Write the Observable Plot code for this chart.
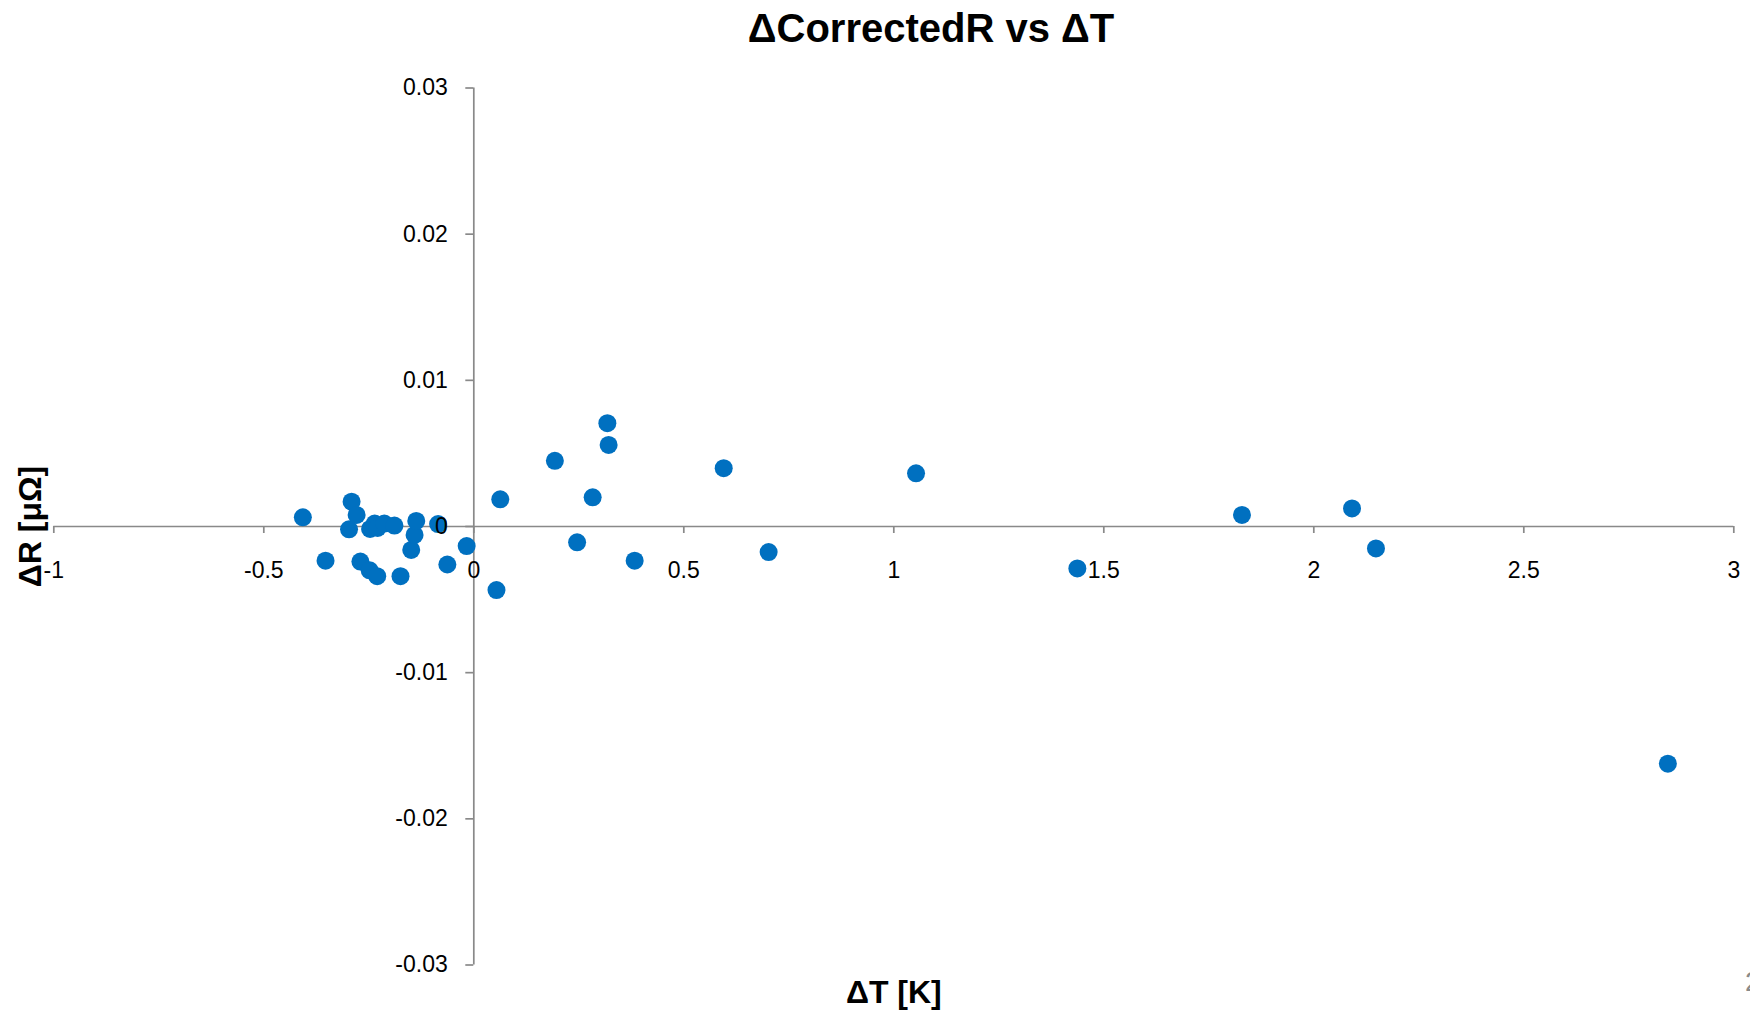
<!DOCTYPE html>
<html><head><meta charset="utf-8">
<script src="https://cdn.jsdelivr.net/npm/d3@7"></script>
<script src="https://cdn.jsdelivr.net/npm/@observablehq/plot@0.6"></script>
<style>
html,body{margin:0;padding:0;background:#fff;}
#wrap{position:relative;width:1750px;height:1012px;overflow:hidden;font-family:"Liberation Sans",Arial,sans-serif;}
#title{position:absolute;left:931px;top:8px;transform:translateX(-50%);font-size:40px;font-weight:bold;line-height:40px;white-space:nowrap;color:#000;}
#chart{position:absolute;left:0;top:56px;}
#pagenum{position:absolute;left:1745px;top:968px;font-size:28px;line-height:28px;color:#8a8a8a;}
</style></head><body>
<div id="wrap"><div id="title">ΔCorrectedR vs ΔT</div><div id="chart"></div><div id="pagenum">2</div></div>
<script>
const deltaT = [-0.407,-0.353,-0.297,-0.291,-0.279,-0.270,-0.248,-0.247,-0.236,-0.229,-0.230,-0.213,-0.189,-0.1745,-0.149,-0.141,-0.137,-0.085,-0.063,-0.017,0.054,0.063,0.193,0.246,0.283,0.318,0.321,0.383,0.595,0.702,1.053,1.437,1.829,2.091,2.148,2.843];
const deltaR = [0.00063,-0.00234,-0.00019,0.0017,0.00079,-0.0024,-0.0030,-0.00017,0.0002,-0.0001,-0.0034,0.0002,0.00006,-0.0034,-0.0016,-0.00058,0.00038,0.00017,-0.0026,-0.00134,-0.00435,0.00186,0.00449,-0.00108,0.0020,0.00707,0.00558,-0.00234,0.00399,-0.00175,0.00364,-0.00287,0.00079,0.00124,-0.0015,-0.01623];
const xTicks = [-1,-0.5,0,0.5,1,1.5,2,2.5,3];
const yTicks = [-0.03,-0.02,-0.01,0,0.01,0.02,0.03];
const xLabel = "ΔT [K]";
const yLabel = "ΔR [μΩ]";

const W = 1750, H = 956;
const mt = 31.5, mb = 47.5, ml = 53.3, mr = 16.7;
const xDomain = [-1, 3], yDomain = [-0.03, 0.03];
const xs = d3.scaleLinear(xDomain, [ml, W - mr]);
const ys = d3.scaleLinear(yDomain, [H - mb, mt]);
const axisColor = "#898989";

const chart = Plot.plot({
  width: W, height: H,
  marginTop: mt, marginBottom: mb, marginLeft: ml, marginRight: mr,
  x: {domain: xDomain},
  y: {domain: yDomain},
  style: {fontFamily: "'Liberation Sans', Arial, sans-serif", background: "white", color: "#000"},
  marks: [
    Plot.ruleY([0], {stroke: axisColor, strokeWidth: 1.7}),
    Plot.ruleX([0], {stroke: axisColor, strokeWidth: 1.7}),
    Plot.dot(deltaT, {x: deltaT, y: deltaR, r: 9, fill: "#0070C0", stroke: "none"}),
    Plot.axisX(xTicks, {anchor: "bottom", tickSize: 7, tickPadding: 28, dy: ys(0) - (H - mb),
      stroke: axisColor, strokeWidth: 1.7, fill: "#000", fontSize: 23, tickFormat: d => String(d), label: null}),
    Plot.axisY(yTicks, {anchor: "left", tickSize: 8, tickPadding: 18, dx: xs(0) - ml,
      stroke: axisColor, strokeWidth: 1.7, fill: "#000", fontSize: 23, tickFormat: d => String(d), label: null}),
    Plot.text([xLabel], {text: d => d, frameAnchor: "bottom", textAnchor: "middle", lineAnchor: "middle", dy: 28, fontSize: 32, fontWeight: "bold", fill: "#000"}),
    Plot.text([yLabel], {text: d => d, frameAnchor: "left", textAnchor: "middle", lineAnchor: "middle", rotate: -90, dx: -23, fontSize: 32, fontWeight: "bold", fill: "#000"})
  ]
});
document.getElementById("chart").appendChild(chart);
</script>
</body></html>
